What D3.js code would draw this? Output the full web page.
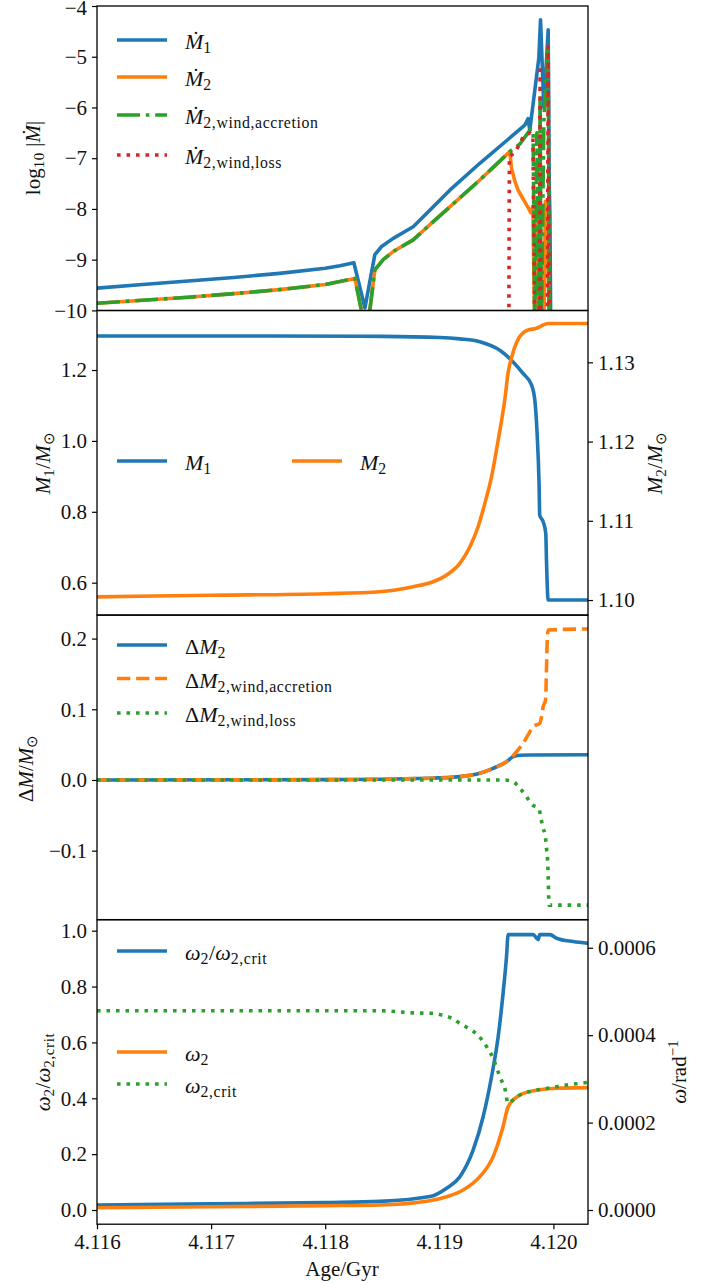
<!DOCTYPE html>
<html><head><meta charset="utf-8">
<script src="https://cdn.jsdelivr.net/npm/d3@7"></script>
<style>
html,body{margin:0;padding:0;background:#fff;}
svg{display:block;}
svg text{font-family:serif !important;}
</style></head><body>
<svg id="chart" width="704" height="1283"></svg>
<script>
// ---------------- DATA (age in Gyr, value) ----------------
const xTicks = [4.116, 4.117, 4.118, 4.119, 4.120];
const p1Ticks = [-10, -9, -8, -7, -6, -5, -4];
const p2LeftTicks = [0.6, 0.8, 1.0, 1.2];
const p2RightTicks = [1.10, 1.11, 1.12, 1.13];
const p3Ticks = [-0.1, 0.0, 0.1, 0.2];
const p4LeftTicks = [0.0, 0.2, 0.4, 0.6, 0.8, 1.0];
const p4RightTicks = [0.0000, 0.0002, 0.0004, 0.0006];

// panel 1: log10 |Mdot|
const mdot1 = [[4.116,-9.56],[4.1164,-9.49],[4.1168,-9.42],[4.1172,-9.35],[4.1176,-9.27],[4.118,-9.17],
  [4.118129,-9.12],[4.118251,-9.06],[4.118348,-9.95],[4.118435,-8.90],[4.118494,-8.74],[4.118596,-8.58],
  [4.118771,-8.35],[4.118932,-7.99],[4.119092,-7.63],[4.119355,-7.10],[4.119749,-6.35],[4.119778,-6.22],
  [4.119793,-6.45],[4.119872,-5.03],[4.119887,-4.27],[4.119916,-6.0],[4.119954,-4.47],[4.119963,-7.5],
  [4.119969,-8.1],[4.119977,-10.5]];
const mdot2 = [[4.116,-9.86],[4.1164,-9.80],[4.1168,-9.74],[4.1172,-9.67],[4.1176,-9.59],[4.118,-9.49],
  [4.118129,-9.43],[4.118260,-9.37],[4.118363,-10.5],[4.118435,-9.20],[4.118508,-9.00],[4.118596,-8.84],
  [4.118771,-8.61],[4.118932,-8.28],[4.119092,-7.96],[4.119355,-7.43],[4.119618,-6.87],[4.119633,-7.20],
  [4.119662,-7.45],[4.119688,-7.62],[4.119723,-7.76],[4.119749,-7.86],[4.119785,-8.00],[4.119802,-8.08],
  [4.119820,-7.95],[4.119837,-10.5],[4.119855,-7.90],[4.119876,-10.5],[4.119883,-7.90],[4.119894,-10.5],
  [4.119916,-10.5],[4.119929,-7.85],[4.119942,-7.90],[4.119951,-8.60],[4.119964,-10.5]];
const mdot2Acc = [[4.116,-9.86],[4.1164,-9.80],[4.1168,-9.74],[4.1172,-9.67],[4.1176,-9.59],[4.118,-9.49],
  [4.118129,-9.43],[4.118260,-9.37],[4.118363,-10.5],[4.118435,-9.20],[4.118508,-9.00],[4.118596,-8.84],
  [4.118771,-8.61],[4.118932,-8.28],[4.119092,-7.96],[4.119355,-7.43],[4.119618,-6.87],[4.119633,-6.84],
  [4.119706,-6.72],[4.119764,-6.54],[4.119802,-6.42],[4.119822,-6.48],[4.119837,-10.5],[4.119855,-6.50],
  [4.119876,-10.5],[4.119883,-5.80],[4.119894,-10.5],[4.119916,-6.30],[4.119929,-5.60],[4.119954,-4.80],
  [4.119964,-10.5]];
const mdot2Loss = [[4.119609,-10.5],[4.119614,-6.97],[4.119668,-6.87],[4.119735,-6.58],[4.119793,-6.50],
  [4.119820,-6.55],[4.119837,-10.5],[4.119876,-10.5],[4.119883,-5.26],[4.119890,-10.5],[4.119947,-10.5],
  [4.119954,-4.80],[4.119964,-10.5]];

// panel 2: masses
const m1 = [[4.116,1.296],[4.1175,1.296],[4.1185,1.295],[4.119005,1.292],[4.11918,1.288],[4.119355,1.280],
  [4.11953,1.256],[4.119647,1.223],[4.119735,1.190],[4.119808,1.158],[4.119837,1.115],[4.119857,1.021],
  [4.119874,0.880],[4.11988,0.790],[4.11991,0.772],[4.119933,0.739],[4.119939,0.664],[4.119954,0.551],
  [4.120303,0.551]];
const m2 = [[4.116,1.1004],[4.117,1.1006],[4.118,1.1008],[4.118479,1.10105],[4.118771,1.10168],
  [4.118946,1.10231],[4.119064,1.10316],[4.11918,1.10463],[4.119268,1.10673],[4.11934,1.10925],
  [4.119399,1.1122],[4.119458,1.11556],[4.119516,1.1202],[4.119574,1.1253],[4.119603,1.1287],
  [4.119633,1.1306],[4.119677,1.1325],[4.119764,1.1340],[4.119851,1.1343],[4.119954,1.1349],[4.120303,1.1349]];

// panel 3: mass changes
const dM2 = [[4.116,0.0],[4.118,0.0005],[4.118917,0.0024],[4.11918,0.0047],[4.119355,0.0095],
  [4.119472,0.0165],[4.119589,0.0259],[4.119647,0.033],[4.119706,0.035],[4.119793,0.0354],[4.120303,0.0358]];
const dM2Acc = [[4.116,0.0],[4.118,0.0005],[4.118917,0.0024],[4.11918,0.0047],[4.119355,0.0095],
  [4.119472,0.0165],[4.119589,0.0259],[4.119677,0.040],[4.119735,0.0519],[4.119778,0.0637],
  [4.119822,0.0754],[4.11988,0.0802],[4.119896,0.0896],[4.11991,0.1037],[4.119931,0.1132],
  [4.119939,0.1556],[4.119945,0.1933],[4.119954,0.2122],[4.120303,0.2136]];
const dM2Loss = [[4.116,0.0],[4.119559,0.0],[4.119647,-0.0024],[4.119706,-0.0118],[4.119758,-0.0222],
  [4.119808,-0.034],[4.119875,-0.0415],[4.11989,-0.054],[4.11991,-0.068],[4.119931,-0.0825],
  [4.119939,-0.0966],[4.119948,-0.111],[4.119954,-0.137],[4.119962,-0.177],[4.120303,-0.177]];

// panel 4: rotation
const omegaRatio = [[4.116,0.018],[4.117,0.022],[4.118,0.027],[4.118479,0.031],[4.118917,0.048],
  [4.119064,0.078],[4.11918,0.119],[4.119297,0.215],[4.119384,0.334],[4.119458,0.478],[4.119516,0.621],
  [4.119559,0.777],[4.119589,0.908],[4.119603,0.986],[4.119822,0.986],[4.119866,0.968],[4.11988,0.986],
  [4.119969,0.986],[4.120027,0.973],[4.120173,0.961],[4.120303,0.955]];
const omega2 = [[4.116,0.0000053],[4.117,0.0000075],[4.118,0.0000098],[4.118479,0.0000114],
  [4.118917,0.0000213],[4.119064,0.0000304],[4.119209,0.0000457],[4.119355,0.0000762],[4.119472,0.000122],
  [4.119559,0.000191],[4.119603,0.000236],[4.119706,0.000263],[4.119851,0.000274],[4.119997,0.000278],
  [4.120303,0.000280]];
const omegaCrit = [[4.116,0.000456],[4.117,0.000456],[4.118,0.000456],[4.118479,0.000456],
  [4.118771,0.000451],[4.118946,0.000450],[4.11902,0.000446],[4.119107,0.000439],[4.11918,0.000427],
  [4.119253,0.000416],[4.119326,0.000403],[4.119414,0.000374],[4.119472,0.000347],[4.119507,0.000322],
  [4.119537,0.000301],[4.119574,0.000278],[4.119603,0.000244],[4.119647,0.000252],[4.119706,0.000263],
  [4.119793,0.000271],[4.119939,0.000278],[4.120115,0.000286],[4.120275,0.000291],[4.120303,0.000292]];

// ---------------- LAYOUT ----------------
const FONT = 'serif';
const C = {blue:"#1f77b4", orange:"#ff7f0e", green:"#2ca02c", red:"#d62728"};
const LW = 3.6;
const DASH = {solid:null, dashdot:"23,5.8,3.6,5.8", dashed:"13.3,5.8", dotted:"3.6,5.9"};
const X0 = 97, X1 = 588, H = 304.4;
const tops = [6, 310.6, 615.2, 919.8];
const TICK_FS = 21, LEG_FS = 22, LAB_FS = 21;

const svg = d3.select("#chart");
const x = d3.scaleLinear().domain([4.116, 4.120303]).range([X0, X1]);

const y1 = d3.scaleLinear().domain([-10, -4]).range([tops[0]+H, tops[0]]);
const y2L = d3.scaleLinear().domain([0.5088, 1.3677]).range([tops[1]+H, tops[1]]);
const y2R = d3.scaleLinear().domain([1.09811, 1.13653]).range([tops[1]+H, tops[1]]);
const y3 = d3.scaleLinear().domain([-0.1975, 0.2331]).range([tops[2]+H, tops[2]]);
const y4L = d3.scaleLinear().domain([-0.0508, 1.039]).range([tops[3]+H, tops[3]]);
const y4R = d3.scaleLinear().domain([-0.0000325, 0.000664]).range([tops[3]+H, tops[3]]);

const defs = svg.append("defs");
tops.forEach((t,i) => {
  defs.append("clipPath").attr("id","clip"+i).append("rect")
    .attr("x",X0).attr("y",t).attr("width",X1-X0).attr("height",H);
});

function drawLine(panel, data, yScale, color, style, smooth) {
  const line = d3.line().x(d => x(d[0])).y(d => yScale(d[1]))
    .curve(smooth ? d3.curveMonotoneX : d3.curveLinear);
  svg.append("path").datum(data)
    .attr("clip-path","url(#clip"+panel+")")
    .attr("d", line)
    .attr("fill","none").attr("stroke",color).attr("stroke-width",LW)
    .attr("stroke-linejoin","round")
    .attr("stroke-linecap", style==="solid" ? "square" : "butt")
    .attr("stroke-dasharray", DASH[style]);
}

function richText(sel, x0, y0, parts, size, anchor) {
  const t = sel.append("text").attr("x",x0).attr("y",y0).attr("font-size",size)
    .attr("fill","#111").attr("text-anchor",anchor||"start").style("font-family",FONT);
  let shift = 0;
  parts.forEach(p => {
    const [str, kind] = p;
    const ts = t.append("tspan").text(str);
    let target = 0;
    if (kind === "i") ts.attr("font-style","italic");
    if (kind === "sub") { target = size*0.2; ts.attr("font-size", size*0.72).attr("letter-spacing", 0.6); }
    if (kind === "sup") { target = -size*0.4; ts.attr("font-size", size*0.72); }
    if (target - shift !== 0) ts.attr("dy", target - shift);
    shift = target;
  });
  return t;
}

function legendEntry(ly, x0, color, style, parts) {
  svg.append("line").attr("x1",x0).attr("x2",x0+50).attr("y1",ly).attr("y2",ly)
    .attr("stroke",color).attr("stroke-width",LW).attr("stroke-dasharray",DASH[style])
    .attr("stroke-linecap","butt");
  richText(svg, x0+68, ly+9, parts, LEG_FS);
}

function yLabel(cx, cy, parts) {
  const g = svg.append("g").attr("transform",`translate(${cx},${cy}) rotate(-90)`);
  richText(g, 0, 0, parts, LAB_FS, "middle");
}

function styleAxis(g) {
  g.attr("font-family", FONT);
  g.selectAll("path.domain").remove();
  g.selectAll("line").attr("stroke","#000").attr("stroke-width",1.2);
  g.selectAll("text").attr("font-size",TICK_FS).attr("fill","#111").style("font-family",FONT);
}

function axisLeft(scale, ticks, fmt) {
  const g = svg.append("g").attr("transform",`translate(${X0},0)`)
    .call(d3.axisLeft(scale).tickValues(ticks).tickFormat(fmt).tickSize(5).tickPadding(5));
  styleAxis(g);
  return g;
}
function axisRight(scale, ticks, fmt) {
  const g = svg.append("g").attr("transform",`translate(${X1},0)`)
    .call(d3.axisRight(scale).tickValues(ticks).tickFormat(fmt).tickSize(5).tickPadding(5));
  styleAxis(g);
  return g;
}

// ---------------- PANEL 1 ----------------
drawLine(0, mdot1, y1, C.blue, "solid", false);
drawLine(0, mdot2, y1, C.orange, "solid", false);
drawLine(0, mdot2Acc, y1, C.green, "dashdot", false);
drawLine(0, mdot2Loss, y1, C.red, "dotted", false);
const a1 = axisLeft(y1, p1Ticks, d3.format("d"));
a1.selectAll("text").filter(d => d === -4).attr("dy", "0.42em");
legendEntry(40, 117, C.blue, "solid", [["\u1E40","i"],["1","sub"]]);
legendEntry(77, 117, C.orange, "solid", [["\u1E40","i"],["2","sub"]]);
legendEntry(115, 117, C.green, "dashdot", [["\u1E40","i"],["2,wind,accretion","sub"]]);
legendEntry(155, 117, C.red, "dotted", [["\u1E40","i"],["2,wind,loss","sub"]]);
yLabel(40, 158, [["log",""],["10","sub"],[" |",""],["\u1E40","i"],["|",""]]);

// ---------------- PANEL 2 ----------------
drawLine(1, m1, y2L, C.blue, "solid", true);
drawLine(1, m2, y2R, C.orange, "solid", true);
axisLeft(y2L, p2LeftTicks, d3.format(".1f"));
axisRight(y2R, p2RightTicks, d3.format(".2f"));
legendEntry(461, 117, C.blue, "solid", [["M","i"],["1","sub"]]);
legendEntry(461, 292, C.orange, "solid", [["M","i"],["2","sub"]]);
yLabel(50, 463, [["M","i"],["1","sub"],["/",""],["M","i"],["\u2299","sub"]]);
yLabel(662, 463, [["M","i"],["2","sub"],["/",""],["M","i"],["\u2299","sub"]]);

// ---------------- PANEL 3 ----------------
drawLine(2, dM2, y3, C.blue, "solid", true);
drawLine(2, dM2Acc, y3, C.orange, "dashed", true);
drawLine(2, dM2Loss, y3, C.green, "dotted", true);
axisLeft(y3, p3Ticks, d3.format(".1f"));
legendEntry(645, 117, C.blue, "solid", [["\u0394",""],["M","i"],["2","sub"]]);
legendEntry(678.5, 117, C.orange, "dashed", [["\u0394",""],["M","i"],["2,wind,accretion","sub"]]);
legendEntry(713, 117, C.green, "dotted", [["\u0394",""],["M","i"],["2,wind,loss","sub"]]);
yLabel(33, 768, [["\u0394",""],["M","i"],["/",""],["M","i"],["\u2299","sub"]]);

// ---------------- PANEL 4 ----------------
drawLine(3, omegaRatio, y4L, C.blue, "solid", true);
drawLine(3, omega2, y4R, C.orange, "solid", true);
drawLine(3, omegaCrit, y4R, C.green, "dotted", true);
axisLeft(y4L, p4LeftTicks, d3.format(".1f"));
axisRight(y4R, p4RightTicks, d3.format(".4f"));
legendEntry(951, 117, C.blue, "solid", [["\u03C9","i"],["2","sub"],["/",""],["\u03C9","i"],["2,crit","sub"]]);
legendEntry(1052, 117, C.orange, "solid", [["\u03C9","i"],["2","sub"]]);
legendEntry(1084, 117, C.green, "dotted", [["\u03C9","i"],["2,crit","sub"]]);
yLabel(50, 1072, [["\u03C9","i"],["2","sub"],["/",""],["\u03C9","i"],["2,crit","sub"]]);
yLabel(686, 1072, [["\u03C9","i"],["/rad",""],["\u22121","sup"]]);

// x axis (bottom panel only)
const gx = svg.append("g").attr("transform",`translate(0,${tops[3]+H})`)
  .call(d3.axisBottom(x).tickValues(xTicks).tickFormat(d3.format(".3f")).tickSize(5).tickPadding(5));
styleAxis(gx);
svg.append("text").attr("x",342).attr("y",1276).attr("text-anchor","middle")
  .attr("font-size",LAB_FS).attr("fill","#111").style("font-family",FONT).text("Age/Gyr");

// spines
tops.forEach(t => {
  svg.append("rect").attr("x",X0).attr("y",t).attr("width",X1-X0).attr("height",H)
    .attr("fill","none").attr("stroke","#000").attr("stroke-width",1.3);
});
</script>
</body></html>
